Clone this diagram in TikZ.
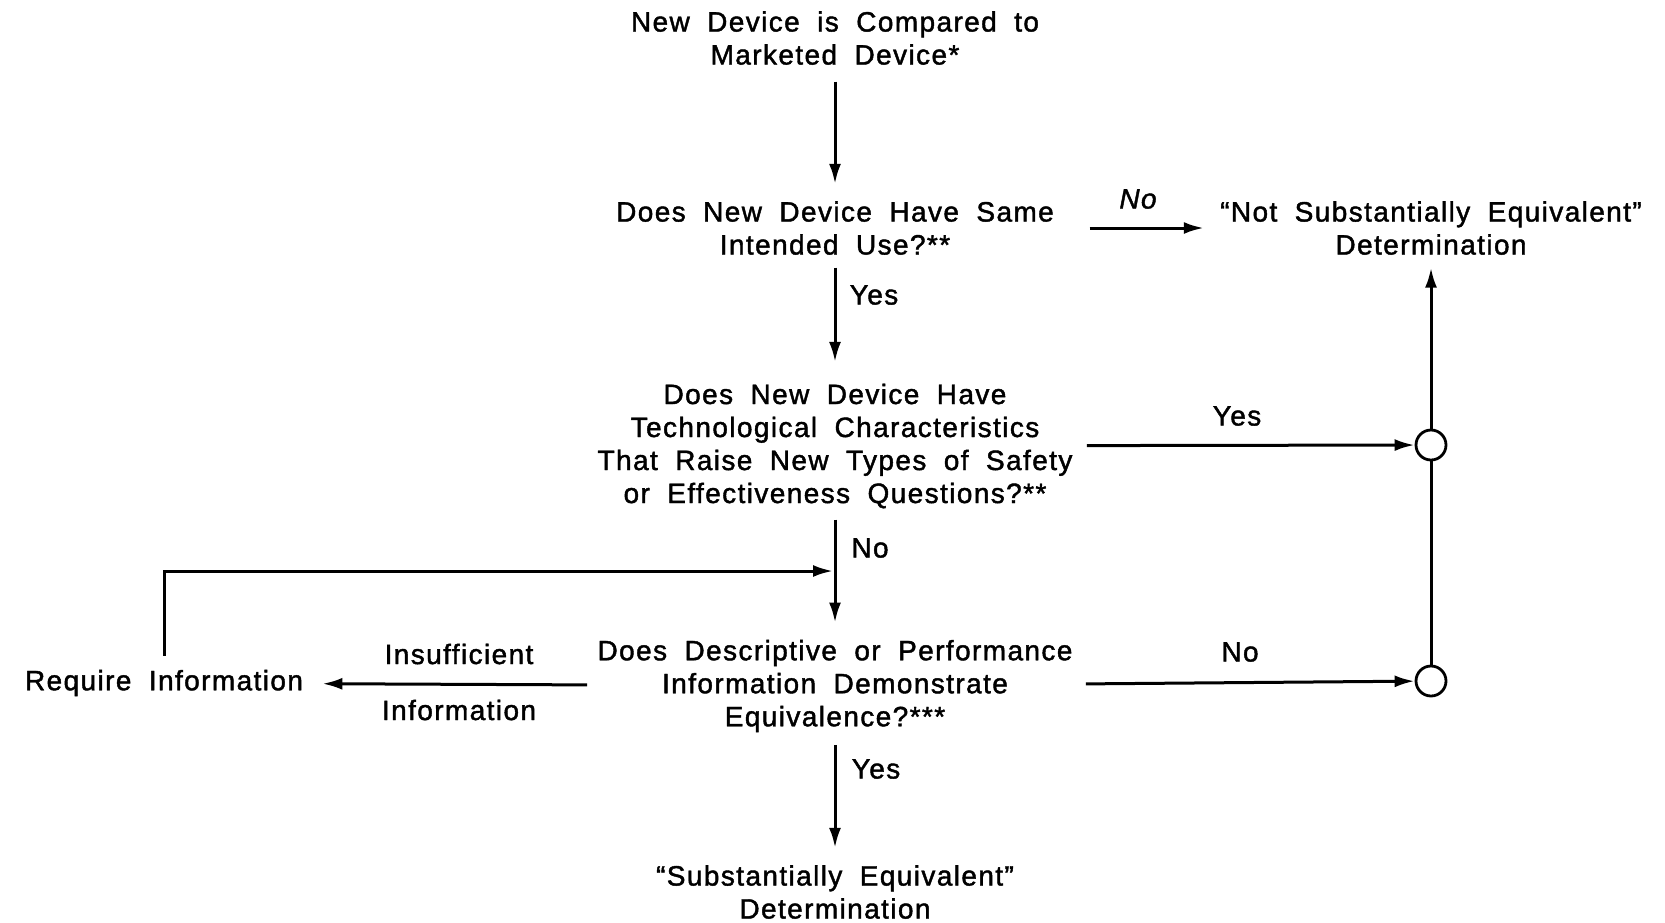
\documentclass[tikz,border=0pt]{standalone}
\usepackage{fontspec}
\setmainfont{Liberation Sans}[LetterSpace=5, WordSpace=1.9, FakeBold=1.5]
\usetikzlibrary{arrows.meta}
\begin{document}
\begin{tikzpicture}[x=0.5pt,y=-0.5pt,
  txt/.style={inner sep=0pt, align=center, font=\fontsize{14pt}{16.5pt}\selectfont},
  arr/.style={line width=1.5pt, -{Latex[length=10pt,width=6pt]}},
  ln/.style={line width=1.5pt},
  junc/.style={circle, draw, line width=1.4pt, minimum size=15pt, inner sep=0pt}]
\useasboundingbox (0,0) rectangle (1665,922);
% boxes
\node[txt] (start) at (835,38) {New Device is Compared to\\Marketed Device*};
\node[txt] (q1) at (835,228) {Does New Device Have Same\\Intended Use?**};
\node[txt] (nse) at (1431,228) {“Not Substantially Equivalent”\\Determination};
\node[txt] (q2) at (835,446) {Does New Device Have\\Technological Characteristics\\That Raise New Types of Safety\\or Effectiveness Questions?**};
\node[txt] (q3) at (835,686) {Does Descriptive or Performance\\Information Demonstrate\\Equivalence?***};
\node[txt] (req) at (164,683) {Require Information};
\node[txt] (se) at (835,892) {“Substantially Equivalent”\\Determination};
\node[junc] (c1) at (1431,445) {};
\node[junc] (c2) at (1431,681) {};
\coordinate (j) at (835,571);
% labels
\node[txt, font=\fontsize{14pt}{16.5pt}\itshape] (lno1) at (1138,199) {No};
\node[txt] (lyes1) at (874,295) {Yes};
\node[txt] (lyes2) at (1237,416) {Yes};
\node[txt] (lno2) at (870,548) {No};
\node[txt] (lno3) at (1240,652) {No};
\node[txt] (lins1) at (459,654) {Insufficient};
\node[txt] (lins2) at (459,710) {Information};
\node[txt] (lyes3) at (876,769) {Yes};
% connectors
\draw[arr, shorten <=8.25pt, shorten >=8.5pt] (start) -- (q1);
\draw[arr, shorten <=17.75pt, shorten >=8pt] (q1) -- (nse);
\draw[arr, shorten <=6.25pt, shorten >=10.7pt] (q1) -- (q2);
\draw[arr, shorten <=7pt] (q2) -- (c1);
\draw[arr, shorten <=5.5pt, shorten >=8.5pt] (q2) -- (q3);
\draw[arr, shorten <=7pt, shorten >=1pt] (req.north) |- (j);
\draw[arr, shorten <=5pt, shorten >=9.5pt] (q3) -- (req);
\draw[arr, shorten <=6.5pt] (q3) -- (c2);
\draw[arr, shorten <=6.25pt, shorten >=8.5pt] (q3) -- (se);
\draw[ln] (c2) -- (c1);
\draw[arr, shorten >=6.25pt] (c1) -- (nse);
\end{tikzpicture}
\end{document}
